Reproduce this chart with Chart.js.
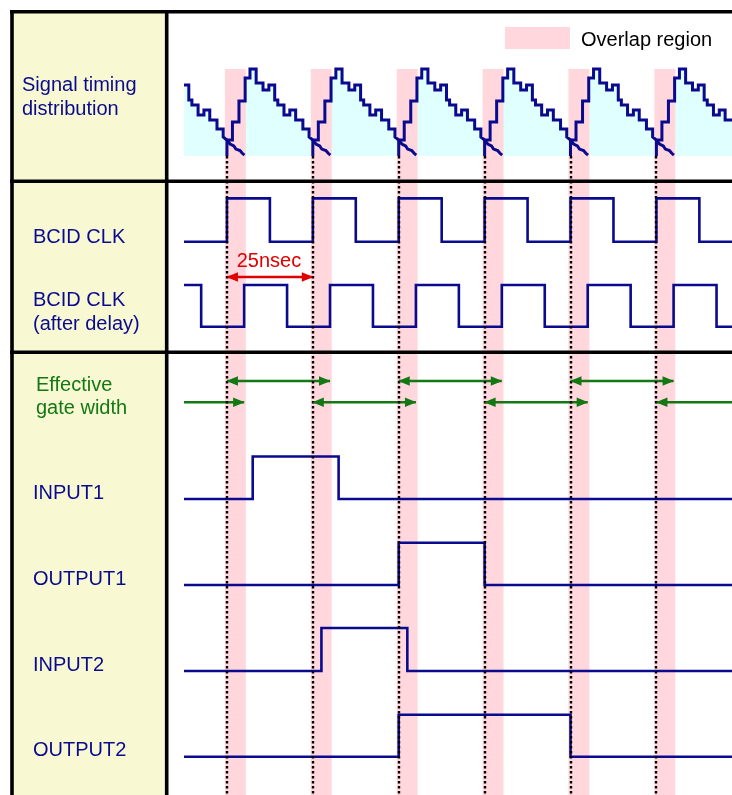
<!DOCTYPE html>
<html>
<head>
<meta charset="utf-8">
<script src="https://cdn.jsdelivr.net/npm/chart.js@4.4.1/dist/chart.umd.min.js"></script>
<style>
  html, body { margin: 0; padding: 0; background: #ffffff; }
  canvas { display: block; }
</style>
</head>
<body>
<canvas id="timing" width="732" height="795"></canvas>
<script>
// ---- time axis (ns) --------------------------------------------------------
const T_START = -12.5;
const T_END = 147;

// bunch crossings, one every 25 ns
const bunchCrossings = [0, 25, 50, 75, 100, 125];
// overlap window around each crossing (ns, relative to the crossing)
const overlapFrom = -0.6;
const overlapTo = 5.5;

// detector pulse outline: vertex times (ns after the crossing) and amplitude (% of peak)
const pulseTimes  = [0, 0, 1.6, 1.6, 3.5, 3.5, 5.3, 5.3, 6.7, 6.7, 8.5, 8.5, 10.5, 10.5, 12.2, 12.2,
                     13.9, 13.9, 14.8, 14.8, 16.6, 16.6, 18.3, 18.3, 20.0, 20.0, 22.1, 22.1, 23.9, 23.9,
                     25.0, 25.9, 27.0, 27.6, 28.8, 29.4, 30.1];
const pulseLevels = [0, 18.4, 18.4, 39.1, 39.1, 63.2, 63.2, 89.7, 89.7, 100, 100, 83.9, 83.9, 75.9, 75.9, 81.6,
                     81.6, 64.4, 64.4, 58.6, 58.6, 47.1, 47.1, 52.9, 52.9, 41.4, 41.4, 31.0, 31.0, 21.8,
                     18.4, 13.8, 11.5, 8.0, 6.3, 3.4, 1.1];
// pulses shown (the first one is only seen by its tail)
const pulseStarts = [-25, 0, 25, 50, 75, 100, 125];

// logic traces: edge times (ns) and the level after each edge
const clkTimes    = [-12.5, 0, 12.5, 25, 37.5, 50, 62.5, 75, 87.5, 100, 112.5, 125, 137.5, 147];
const clkLevels   = [0, 1, 0, 1, 0, 1, 0, 1, 0, 1, 0, 1, 0, 0];
const dclkTimes   = [-12.5, -7.5, 5, 17.5, 30, 42.5, 55, 67.5, 80, 92.5, 105, 117.5, 130, 142.5, 147];
const dclkLevels  = [1, 0, 1, 0, 1, 0, 1, 0, 1, 0, 1, 0, 1, 0, 0];
const input1Times  = [-12.5, 7.5, 32.5, 147];
const input1Levels = [0, 1, 0, 0];
const output1Times  = [-12.5, 50, 75, 147];
const output1Levels = [0, 1, 0, 0];
const input2Times  = [-12.5, 27.5, 52.5, 147];
const input2Levels = [0, 1, 0, 0];
const output2Times  = [-12.5, 50, 100, 147];
const output2Levels = [0, 1, 0, 0];

// effective gate windows (ns), two interleaved rows
const gateUpper = [[0, 30], [50, 80], [100, 130]];
const gateLower = [[-12.5, 5], [25, 55], [75, 105], [125, 147]];
// one BCID period
const periodMark = [0, 25];

// ---- styles ----------------------------------------------------------------
const NAVY = '#0a0a8f';
const GREEN = '#137813';
const RED = '#e00000';
const PINK = '#ffd7dd';
const CYAN = '#e0ffff';
const PANEL = '#f8f9d2';
const FONT = '20px "Liberation Sans", Arial, Helvetica, sans-serif';
const CANVAS_H = 795;

// each row gets its own hidden y axis: level 0 at basePx, one unit = unitPx
function rowAxis(basePx, unitPx) {
  return { type: 'linear', display: false, min: (basePx - CANVAS_H) / unitPx, max: basePx / unitPx };
}

function trace(times, levels, axis) {
  return {
    data: times.map((t, i) => ({ x: t, y: levels[i] })),
    yAxisID: axis,
    borderColor: NAVY,
    borderWidth: 2.6,
    borderJoinStyle: 'miter',
    stepped: 'before',
    pointRadius: 0,
    fill: false,
    order: 2
  };
}

function arrow(win, level, axis, color) {
  return {
    data: [{ x: win[0], y: level }, { x: win[1], y: level }],
    yAxisID: axis,
    borderColor: color,
    borderWidth: 2.4,
    pointRadius: 0,
    fill: false,
    arrowColor: color,
    order: 1
  };
}

const datasets = [];
pulseStarts.forEach(s => {
  datasets.push({
    data: pulseTimes.map((t, i) => ({ x: s + t, y: pulseLevels[i] })),
    yAxisID: 'ySig',
    borderColor: NAVY,
    borderWidth: 3,
    borderJoinStyle: 'miter',
    pointRadius: 0,
    fill: 'origin',
    backgroundColor: CYAN,
    order: 2
  });
});
datasets.push(trace(clkTimes, clkLevels, 'yClk'));
datasets.push(trace(dclkTimes, dclkLevels, 'yDclk'));
datasets.push(trace(input1Times, input1Levels, 'yIn1'));
datasets.push(trace(output1Times, output1Levels, 'yOut1'));
datasets.push(trace(input2Times, input2Levels, 'yIn2'));
datasets.push(trace(output2Times, output2Levels, 'yOut2'));
gateUpper.forEach(w => datasets.push(arrow(w, 1, 'yGate', GREEN)));
gateLower.forEach(w => datasets.push(arrow(w, 0, 'yGate', GREEN)));
datasets.push(arrow(periodMark, 0, 'yPeriod', RED));

// ---- decorations: panel frame, overlap bands, crossing markers, labels ------
const timingDecor = {
  id: 'timingDecor',
  beforeDraw(chart) {
    const ctx = chart.ctx;
    ctx.save();
    ctx.fillStyle = '#ffffff';
    ctx.fillRect(0, 0, chart.width, chart.height);
    ctx.fillStyle = PANEL;
    ctx.fillRect(12, 12, 155, chart.height - 12);
    ctx.restore();
  },
  beforeDatasetsDraw(chart) {
    // pink overlap bands sit above the cyan fill but below the traces
    const ctx = chart.ctx;
    const x = chart.scales.x;
    const ySig = chart.scales.ySig;
    const top = ySig.getPixelForValue(100);
    ctx.save();
    ctx.fillStyle = PINK;
    bunchCrossings.forEach(t => {
      const x0 = x.getPixelForValue(t + overlapFrom);
      const x1 = x.getPixelForValue(t + overlapTo);
      ctx.fillRect(x0, top, x1 - x0, chart.chartArea.bottom - top);
    });
    ctx.restore();
  },
  afterDatasetsDraw(chart) {
    const ctx = chart.ctx;
    const x = chart.scales.x;
    const ySig = chart.scales.ySig;
    ctx.save();

    // dotted crossing markers
    ctx.strokeStyle = '#000000';
    ctx.lineWidth = 2.4;
    ctx.setLineDash([2.5, 2.5]);
    const yTop = ySig.getPixelForValue(0);
    bunchCrossings.forEach(t => {
      const px = Math.round(x.getPixelForValue(t));
      ctx.beginPath();
      ctx.moveTo(px, yTop);
      ctx.lineTo(px, chart.chartArea.bottom);
      ctx.stroke();
    });
    ctx.setLineDash([]);

    // arrow heads on arrow datasets (none at the plot edges)
    chart.data.datasets.forEach((ds, i) => {
      if (!ds.arrowColor) return;
      const pts = chart.getDatasetMeta(i).data;
      const a = pts[0], b = pts[pts.length - 1];
      ctx.fillStyle = ds.arrowColor;
      const head = (px, py, dir) => {
        ctx.beginPath();
        ctx.moveTo(px + dir * 0.5, py);
        ctx.lineTo(px - dir * 11, py - 4.8);
        ctx.lineTo(px - dir * 11, py + 4.8);
        ctx.closePath();
        ctx.fill();
      };
      if (ds.data[0].x > T_START) head(a.x, a.y, -1);
      if (ds.data[ds.data.length - 1].x < T_END) head(b.x, b.y, 1);
    });

    // period label
    ctx.fillStyle = RED;
    ctx.font = FONT;
    ctx.textAlign = 'center';
    ctx.textBaseline = 'alphabetic';
    const mid = (x.getPixelForValue(periodMark[0]) + x.getPixelForValue(periodMark[1])) / 2;
    ctx.fillText('25nsec', mid - 1, 267);
    ctx.restore();
  },
  afterDraw(chart) {
    const ctx = chart.ctx;
    const W = chart.width, H = chart.height;
    ctx.save();

    // frame
    ctx.strokeStyle = '#000000';
    ctx.lineWidth = 3.6;
    ctx.beginPath();
    ctx.moveTo(10, 11.8); ctx.lineTo(W, 11.8);
    ctx.moveTo(12, 10); ctx.lineTo(12, H);
    ctx.moveTo(166.7, 10); ctx.lineTo(166.7, H);
    ctx.moveTo(10, 181.3); ctx.lineTo(W, 181.3);
    ctx.moveTo(10, 352.3); ctx.lineTo(W, 352.3);
    ctx.stroke();

    // legend
    ctx.fillStyle = PINK;
    ctx.fillRect(505, 27, 65, 22);
    ctx.fillStyle = '#000000';
    ctx.font = FONT;
    ctx.textAlign = 'left';
    ctx.textBaseline = 'alphabetic';
    ctx.fillText('Overlap region', 581, 46);

    // row names
    const rows = [
      { text: ['Signal timing', 'distribution'], x: 22, y: [90.5, 115], color: NAVY },
      { text: ['BCID CLK'], x: 33, y: [243], color: NAVY },
      { text: ['BCID CLK', '(after delay)'], x: 33, y: [306, 330], color: NAVY },
      { text: ['Effective', 'gate width'], x: 36, y: [390.5, 413.5], color: GREEN },
      { text: ['INPUT1'], x: 33, y: [499], color: NAVY },
      { text: ['OUTPUT1'], x: 33, y: [585], color: NAVY },
      { text: ['INPUT2'], x: 33, y: [671], color: NAVY },
      { text: ['OUTPUT2'], x: 33, y: [756], color: NAVY }
    ];
    rows.forEach(r => {
      ctx.fillStyle = r.color;
      r.text.forEach((s, i) => ctx.fillText(s, r.x, r.y[i]));
    });
    ctx.restore();
  }
};

new Chart(document.getElementById('timing'), {
  type: 'line',
  data: { datasets },
  options: {
    responsive: false,
    animation: false,
    devicePixelRatio: 1,
    layout: { padding: { left: 184, right: 0, top: 0, bottom: 0 } },
    events: [],
    plugins: {
      legend: { display: false },
      tooltip: { enabled: false },
      title: { display: false },
      filler: { drawTime: 'beforeDatasetsDraw' }
    },
    scales: {
      x: { type: 'linear', display: false, min: T_START, max: T_END },
      ySig: rowAxis(156, 0.87),
      yClk: rowAxis(241.7, 43.3),
      yPeriod: rowAxis(277, 1),
      yDclk: rowAxis(326.7, 41.7),
      yGate: rowAxis(402.3, 21.3),
      yIn1: rowAxis(499, 42.5),
      yOut1: rowAxis(585, 42.3),
      yIn2: rowAxis(671, 43),
      yOut2: rowAxis(756.7, 42)
    }
  },
  plugins: [timingDecor]
});
</script>
</body>
</html>
